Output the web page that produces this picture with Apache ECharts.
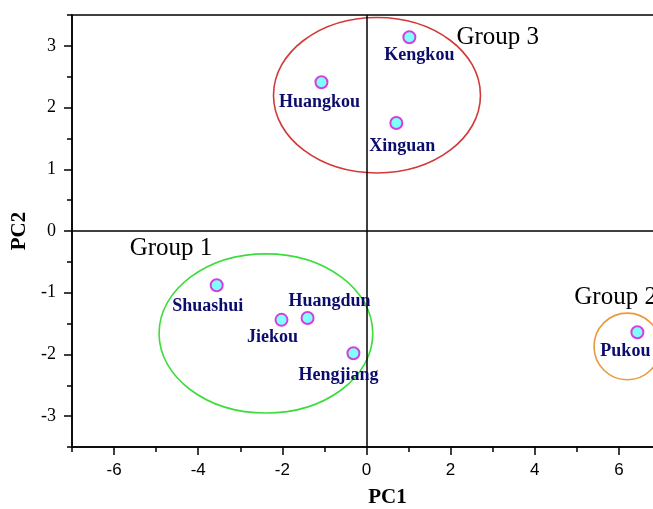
<!DOCTYPE html>
<html>
<head>
<meta charset="utf-8">
<script src="https://cdn.jsdelivr.net/npm/echarts@6/dist/echarts.min.js"></script>
<style>html,body{margin:0;padding:0;background:#fff}#c{width:653px;height:509px}</style>
</head>
<body>
<div id="c"></div>
<script>
// ---- data ----
var siteNames = ['Kengkou','Huangkou','Xinguan','Shuashui','Huangdun','Jiekou','Hengjiang','Pukou'];
var pc1 = [1.02, -1.07, 0.71, -3.56, -1.40, -2.02, -0.31, 6.44];
var pc2 = [3.14, 2.41, 1.75, -0.88, -1.41, -1.44, -1.98, -1.64];

var groupNames = ['Group 3', 'Group 1', 'Group 2'];
var groupCx = [0.25, -2.39, 6.20];
var groupCy = [2.20, -1.66, -1.87];
var groupRx = [2.46, 2.54, 0.79];
var groupRy = [1.26, 1.29, 0.54];
var groupLabelX = [2.14, -5.63, 4.94];
var groupLabelY = [3.14, -0.29, -1.07];

var xTickLabels = [-6, -4, -2, 0, 2, 4, 6, 8];
var xMinorTicks = [-7, -5, -3, -1, 1, 3, 5, 7];
var yTickLabels = [-3, -2, -1, 0, 1, 2, 3];
var yMinorTicks = [-3.5, -2.5, -1.5, -0.5, 0.5, 1.5, 2.5, 3.5];

// ---- styles ----
var groupColors = ['#d23a3a', '#3ddc3d', '#e89a3c'];
var labelOffsets = {
  Kengkou: [10, 18], Huangkou: [-2, 20], Xinguan: [6, 23], Shuashui: [-9, 21],
  Huangdun: [22, -17], Jiekou: [-9, 17], Hengjiang: [-15, 22], Pukou: [-12, 19]
};

var chart = echarts.init(document.getElementById('c'), null, {renderer: 'canvas'});

var pts = siteNames.map(function (n, i) {
  return {
    value: [pc1[i], pc2[i]],
    name: n,
    label: { offset: labelOffsets[n] }
  };
});

var ellipseData = groupNames.map(function (g, i) {
  return [groupCx[i], groupCy[i], groupRx[i], groupRy[i], i];
});
var groupLabelData = groupNames.map(function (g, i) {
  return { value: [groupLabelX[i], groupLabelY[i]], name: g };
});

var serif = '"Liberation Serif", "Times New Roman", serif';

var option = {
  animation: false,
  backgroundColor: '#fff',
  grid: { left: 72, top: 15, bottom: 62, width: 631, show: true, borderColor: '#000', borderWidth: 1.5, containLabel: false, outerBoundsMode: 'none' },
  xAxis: [{
    type: 'value', min: -7, max: 8,
    name: 'PC1', nameLocation: 'middle', nameGap: 40,
    nameTextStyle: { fontFamily: serif, fontWeight: 'bold', fontSize: 21, color: '#000' },
    axisLine: { onZero: false, lineStyle: { color: '#000', width: 1.5 } },
    axisTick: { show: true, customValues: xTickLabels, length: 8, lineStyle: { color: '#000', width: 1.5 } },
    axisLabel: { customValues: xTickLabels, margin: 15, fontFamily: '"Liberation Sans", Arial, sans-serif', fontSize: 17, color: '#000' },
    splitLine: { show: false }
  }, {
    type: 'value', min: -7, max: 8, position: 'bottom',
    axisLine: { show: false, onZero: false },
    axisTick: { show: true, customValues: xMinorTicks, length: 5, lineStyle: { color: '#000', width: 1.5 } },
    axisLabel: { show: false },
    splitLine: { show: false }
  }],
  yAxis: [{
    type: 'value', min: -3.5, max: 3.5,
    name: 'PC2', nameLocation: 'middle', nameGap: 42, nameRotate: 90,
    nameTextStyle: { fontFamily: serif, fontWeight: 'bold', fontSize: 21, color: '#000' },
    axisLine: { onZero: false, lineStyle: { color: '#000', width: 1.5 } },
    axisTick: { show: true, customValues: yTickLabels, length: 8, lineStyle: { color: '#000', width: 1.5 } },
    axisLabel: { customValues: yTickLabels, margin: 16, fontFamily: serif, fontSize: 18, color: '#000' },
    splitLine: { show: false }
  }, {
    type: 'value', min: -3.5, max: 3.5, position: 'left', offset: 0,
    axisLine: { show: false, onZero: false },
    axisTick: { show: true, customValues: yMinorTicks, length: 5, lineStyle: { color: '#000', width: 1.5 } },
    axisLabel: { show: false },
    splitLine: { show: false }
  }],
  series: [{
    type: 'custom',
    coordinateSystem: 'cartesian2d',
    xAxisIndex: 0, yAxisIndex: 0,
    silent: true,
    z: 2,
    data: ellipseData,
    renderItem: function (params, api) {
      var c = api.coord([api.value(0), api.value(1)]);
      var s = api.size([api.value(2), api.value(3)]);
      return {
        type: 'ellipse',
        shape: { cx: c[0], cy: c[1], rx: s[0], ry: s[1] },
        style: { fill: 'none', stroke: groupColors[api.value(4)], lineWidth: 1.6 }
      };
    }
  }, {
    type: 'scatter',
    xAxisIndex: 0, yAxisIndex: 0,
    silent: true, z: 3,
    symbolSize: 0,
    data: [],
    markLine: {
      silent: true, symbol: 'none', animation: false,
      label: { show: false },
      lineStyle: { color: '#000', width: 1.5, type: 'solid' },
      data: [{ xAxis: 0 }, { yAxis: 0 }]
    }
  }, {
    type: 'scatter',
    xAxisIndex: 0, yAxisIndex: 0,
    silent: true, z: 4,
    symbolSize: 0,
    itemStyle: { opacity: 1 },
    data: groupLabelData,
    label: {
      show: true, position: 'right', distance: 0,
      formatter: '{b}', fontFamily: serif, fontSize: 25, color: '#000'
    }
  }, {
    type: 'scatter',
    xAxisIndex: 0, yAxisIndex: 0,
    silent: true, z: 5,
    symbol: 'circle', symbolSize: 12,
    itemStyle: { color: '#80ffff', borderColor: '#d23fe0', borderWidth: 2, opacity: 1 },
    data: pts,
    label: {
      show: true, position: 'inside',
      formatter: '{b}', fontFamily: serif, fontWeight: 'bold', fontSize: 18, color: '#0c0c6c'
    }
  }]
};
chart.setOption(option);
</script>
</body>
</html>
